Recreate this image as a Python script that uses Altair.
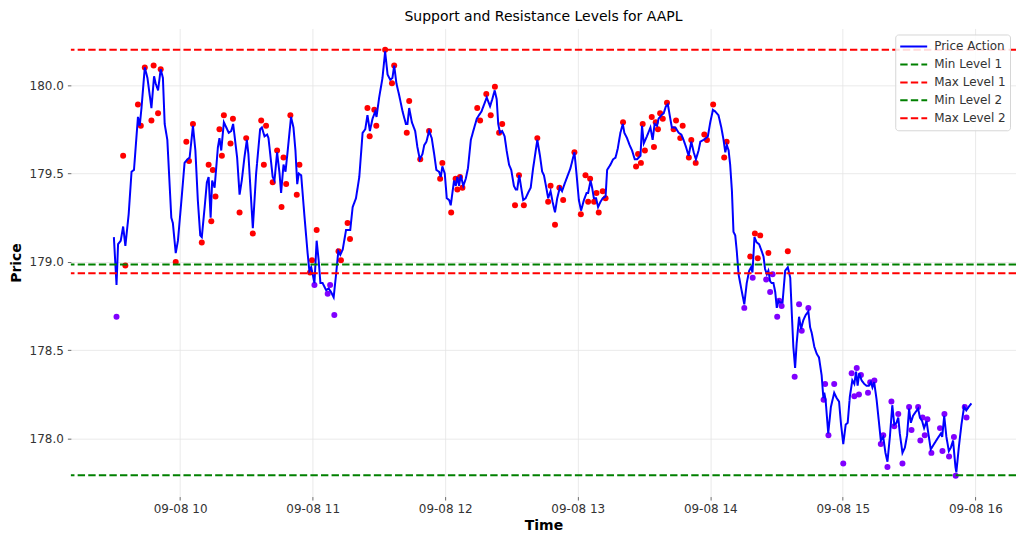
import altair as alt
import pandas as pd

# ---- data (minutes after 09:00, price) ----
price_points = [
    (30.0,179.14),(31.2,178.87),(31.9,179.10),(33.1,179.12),(34.2,179.20),(35.2,179.09),(36.7,179.27),(38.0,179.51),
    (39.1,179.52),(40.9,179.82),(41.7,179.77),(42.5,179.87),(44.0,180.10),(45.2,180.04),(47.0,179.87),(48.2,180.05),
    (48.9,180.01),(50.0,179.97),(51.2,180.09),(52.2,180.04),(53.0,179.78),(54.2,179.69),(56.0,179.25),(56.7,179.22),
    (58.0,179.05),(59.0,179.12),(60.8,179.38),(62.0,179.56),(63.3,179.58),(64.3,179.59),(65.8,179.77),(66.9,179.63),
    (68.0,179.35),(69.1,179.15),(69.8,179.14),(71.1,179.31),(72.1,179.45),(72.9,179.48),(73.8,179.25),(74.5,179.46),
    (75.6,179.42),(77.1,179.65),(77.8,179.70),(78.6,179.63),(79.8,179.79),(80.9,179.76),(82.0,179.73),(83.1,179.74),
    (84.0,179.78),(85.8,179.59),(86.9,179.38),(87.9,179.46),(89.1,179.59),(90.2,179.69),(90.9,179.61),(92.9,179.19),
    (94.4,179.50),(96.2,179.75),(97.0,179.76),(98.2,179.71),(99.4,179.72),(100.0,179.70),(101.9,179.48),(102.7,179.46),
    (103.9,179.62),(105.0,179.50),(105.7,179.39),(106.8,179.55),(107.7,179.51),(108.7,179.63),(110.2,179.82),(111.3,179.76),
    (112.2,179.63),(113.0,179.44),(113.7,179.50),(114.8,179.49),(116.2,179.27),(117.7,179.05),(118.5,178.95),(119.3,178.97),
    (120.0,178.93),(120.8,178.88),(121.8,179.12),(122.7,179.01),(123.5,178.88),(124.5,178.88),(126.1,178.84),(127.2,178.85),
    (128.3,178.83),(129.5,178.80),(130.6,178.93),(131.6,179.06),(132.5,179.04),(133.6,179.07),(135.1,179.18),(136.1,179.18),
    (137.0,179.18),(138.1,179.31),(139.6,179.36),(141.1,179.48),(142.6,179.73),(143.8,179.75),(144.8,179.83),(145.9,179.74),
    (147.1,179.81),(148.3,179.85),(148.9,179.82),(150.1,179.93),(151.6,180.04),(152.8,180.19),(153.9,180.06),(155.1,180.03),
    (156.1,180.04),(156.9,180.11),(157.9,180.01),(159.2,179.94),(160.7,179.85),(162.2,179.78),(162.9,179.78),(163.7,179.87),
    (164.9,179.79),(166.4,179.74),(167.4,179.65),(168.5,179.58),(169.7,179.61),(170.5,179.66),(171.5,179.68),(172.7,179.74),
    (173.9,179.70),(175.0,179.61),(176.0,179.52),(177.2,179.51),(178.0,179.48),(178.7,179.54),(179.8,179.50),(180.7,179.36),
    (181.8,179.35),(182.5,179.32),(184.0,179.46),(184.8,179.43),(185.5,179.48),(186.3,179.43),(187.0,179.49),(188.2,179.43),
    (189.3,179.47),(190.3,179.53),(191.6,179.69),(192.7,179.74),(194.3,179.81),(195.3,179.83),(196.4,179.85),(197.6,179.89),
    (198.8,179.93),(200.3,179.88),(201.3,179.92),(202.4,179.97),(203.3,179.92),(204.0,179.78),(204.8,179.73),(205.8,179.74),
    (206.9,179.71),(207.8,179.63),(208.9,179.55),(209.9,179.52),(211.1,179.43),(211.9,179.41),(212.6,179.41),(213.5,179.49),
    (214.4,179.42),(215.3,179.35),(216.4,179.36),(217.5,179.39),(218.7,179.42),(219.8,179.53),(221.7,179.69),(222.9,179.60),
    (223.9,179.51),(224.7,179.49),(225.9,179.41),(226.6,179.36),(227.7,179.40),(228.6,179.34),(229.7,179.28),(230.7,179.36),
    (231.9,179.42),(232.9,179.40),(234.0,179.44),(235.2,179.48),(236.7,179.53),(238.5,179.62),(239.5,179.49),(240.5,179.35),
    (241.5,179.29),(242.8,179.35),(244.0,179.39),(244.7,179.39),(245.8,179.46),(246.5,179.42),(247.3,179.36),(248.3,179.36),
    (249.2,179.31),(250.3,179.34),(251.3,179.36),(252.6,179.37),(253.3,179.52),(254.8,179.55),(256.0,179.58),(257.1,179.59),
    (258.1,179.64),(259.3,179.73),(260.4,179.78),(261.1,179.73),(262.3,179.70),(263.5,179.66),(264.6,179.63),(265.8,179.58),
    (266.8,179.58),(268.4,179.60),(269.1,179.77),(269.9,179.67),(271.3,179.71),(272.9,179.76),(273.9,179.69),(274.8,179.78),
    (275.9,179.77),(276.6,179.81),(277.9,179.83),(278.9,179.84),(279.9,179.88),(280.8,179.89),(281.9,179.81),(282.6,179.76),
    (284.2,179.76),(285.7,179.73),(286.9,179.72),(287.9,179.69),(289.0,179.65),(290.2,179.60),(291.4,179.68),(292.5,179.62),
    (293.5,179.58),(294.7,179.63),(295.5,179.68),(297.0,179.69),(298.0,179.70),(298.9,179.71),(300.0,179.79),(301.2,179.86),
    (302.3,179.85),(303.7,179.83),(305.0,179.76),(306.0,179.69),(306.8,179.62),(307.5,179.66),(308.3,179.63),(309.0,179.55),
    (309.8,179.40),(310.5,179.17),(311.3,179.15),(312.0,179.06),(312.8,178.93),(314.0,178.85),(315.4,178.76),(316.5,178.88),
    (317.6,178.95),(318.5,178.97),(319.1,178.94),(320.0,179.14),(321.0,179.11),(322.1,179.10),(323.3,179.06),(324.1,179.03),
    (324.8,178.96),(325.6,178.93),(326.3,178.95),(327.1,178.89),(327.8,178.88),(328.6,178.88),(329.4,178.83),(330.1,178.74),
    (330.9,178.78),(331.6,178.77),(332.7,178.77),(333.9,178.95),(335.1,178.97),(336.2,178.91),(336.9,178.71),(337.6,178.52),
    (338.4,178.40),(339.1,178.54),(340.2,178.69),(341.1,178.62),(342.1,178.67),(343.2,178.70),(344.4,178.72),(345.2,178.63),
    (345.9,178.60),(347.1,178.52),(348.2,178.48),(349.2,178.46),(350.4,178.36),(351.2,178.23),(351.6,178.26),(352.2,178.22),
    (353.4,178.03),(354.6,178.18),(356.1,178.26),(357.2,178.23),(358.3,178.21),(359.2,178.08),(360.2,177.97),(361.3,178.08),
    (362.2,178.09),(363.2,178.24),(364.3,178.33),(365.2,178.31),(366.0,178.38),(366.7,178.30),(367.4,178.37),(368.5,178.33),
    (369.7,178.31),(370.7,178.30),(371.8,178.30),(372.7,178.32),(373.4,178.29),(374.2,178.32),(375.3,178.22),(376.3,178.10),
    (377.2,177.99),(378.3,178.01),(379.3,177.92),(380.2,177.87),(381.3,178.01),(382.4,178.19),(383.3,178.08),(384.3,178.09),
    (385.1,178.12),(385.8,178.03),(387.0,177.92),(388.1,177.95),(389.1,178.02),(390.0,178.17),(390.8,178.09),(391.8,178.13),
    (392.9,178.15),(394.1,178.17),(394.9,178.12),(395.9,178.10),(396.8,178.06),(397.9,178.10),(398.6,178.04),(399.8,177.94),
    (401.3,177.97),(402.8,178.00),(404.4,178.03),(405.0,178.01),(405.9,178.13),(406.9,178.01),(408.0,177.93),(408.9,177.95),
    (409.9,177.99),(411.0,177.84),(411.4,177.81),(412.5,177.95),(413.7,178.08),(414.9,178.18),(415.9,178.16),(417.0,178.18),
    (418.2,178.20),
]

red_points = [
    (34.2,179.60),(35.2,178.98),(40.9,179.89),(42.2,179.77),(44.0,180.10),(47.0,179.80),(48.0,180.11),(50.0,179.84),
    (51.2,180.09),(58.0,179.00),(62.8,179.68),(64.0,179.57),(65.8,179.78),(69.8,179.11),(72.9,179.55),(74.1,179.23),
    (74.8,179.52),(76.0,179.37),(77.8,179.75),(78.9,179.60),(79.8,179.83),(82.8,179.67),(83.9,179.81),(86.9,179.28),
    (89.9,179.70),(92.9,179.16),(96.7,179.80),(97.9,179.55),(98.9,179.77),(101.9,179.45),(103.9,179.63),(105.9,179.31),
    (106.8,179.59),(108.0,179.44),(109.9,179.83),(112.8,179.38),(114.0,179.55),(118.8,178.94),(119.7,179.01),(121.8,179.18),
    (131.7,179.06),(132.8,179.01),(135.8,179.22),(136.9,179.13),(144.8,179.87),(145.8,179.71),(147.9,179.86),(148.8,179.77),
    (152.8,180.20),(155.9,180.01),(156.9,180.11),(162.6,179.73),(163.7,179.91),(168.7,179.58),(172.7,179.74),(177.7,179.47),
    (178.7,179.56),(182.7,179.28),(184.7,179.47),(185.5,179.41),(186.7,179.48),(187.8,179.42),(194.5,179.87),(195.8,179.80),
    (198.6,179.95),(200.6,179.83),(202.5,179.99),(204.4,179.73),(205.8,179.78),(211.6,179.32),(213.4,179.49),(215.6,179.32),
    (221.7,179.70),(226.6,179.34),(227.7,179.43),(229.7,179.21),(231.7,179.42),(233.4,179.35),(238.5,179.62),(241.4,179.27),
    (243.5,179.49),(244.7,179.34),(245.6,179.47),(247.4,179.34),(248.5,179.39),(249.5,179.28),(251.3,179.40),(252.6,179.36),
    (260.5,179.79),(266.4,179.54),(267.3,179.61),(268.6,179.56),(269.4,179.78),(270.4,179.63),(273.5,179.82),(274.5,179.65),
    (275.3,179.79),(276.3,179.75),(277.3,179.84),(278.5,179.81),(280.4,179.90),(283.4,179.75),(284.5,179.80),(286.4,179.70),
    (287.5,179.77),(290.3,179.59),(291.4,179.69),(293.4,179.56),(297.3,179.72),(298.5,179.69),(301.3,179.89),(306.3,179.59),
    (307.4,179.68),(318.1,179.03),(320.2,179.16),(321.5,179.02),(322.6,179.15),(326.3,179.05),(335.1,179.06),
]

purple_points = [
    (31.2,178.69),(120.8,178.87),(126.8,178.82),(127.9,178.87),(129.8,178.70),(315.4,178.74),(319.2,178.91),(325.3,178.90),
    (327.1,178.83),(328.2,178.93),(330.3,178.69),(331.2,178.78),(332.3,178.75),(338.2,178.35),(340.2,178.76),(341.4,178.61),
    (344.4,178.74),(351.3,178.22),(352.0,178.31),(353.5,178.02),(356.1,178.31),(360.2,177.86),(364.0,178.37),(365.2,178.24),
    (366.3,178.40),(367.3,178.25),(368.2,178.36),(371.4,178.26),(372.4,178.32),(374.3,178.33),(377.2,177.97),(378.3,178.02),
    (380.2,177.84),(382.0,178.21),(383.3,178.07),(385.1,178.14),(387.0,177.86),(390.0,178.18),(391.1,178.05),(394.1,178.18),
    (395.1,177.99),(396.1,178.12),(397.1,178.02),(398.3,178.11),(400.1,177.92),(404.0,178.06),(405.1,177.93),(406.0,178.14),
    (408.1,177.90),(410.3,178.01),(411.1,177.79),(415.2,178.18),(416.0,178.12),
]

series_names = ["Price Action", "Min Level 1", "Max Level 1", "Min Level 2", "Max Level 2"]
series_colors = ["#0000ff", "#008000", "#ff0000", "#008000", "#ff0000"]
series_dashes = [[1, 0], [7.4, 3.2], [7.4, 3.2], [7.4, 3.2], [7.4, 3.2]]
level_names = ["Min Level 1", "Max Level 1", "Min Level 2", "Max Level 2"]
level_values = [177.793, 180.20, 178.985, 178.936]

hour_ticks = [10, 11, 12, 13, 14, 15, 16]
price_ticks = [178.0, 178.5, 179.0, 179.5, 180.0]

BASE = pd.Timestamp("2023-09-08 09:00:00")


def frame(points):
    return pd.DataFrame({
        "time": [BASE + pd.Timedelta(minutes=m) for m, _ in points],
        "price": [p for _, p in points],
    })


price_df = frame(price_points)
price_df["series"] = "Price Action"
red_df = frame(red_points)
purple_df = frame(purple_points)
levels_df = pd.DataFrame({"series": level_names, "value": level_values})

x_scale = alt.Scale(domain=[
    alt.DateTime(year=2023, month=9, date=8, hours=9, minutes=10, seconds=32),
    alt.DateTime(year=2023, month=9, date=8, hours=16, minutes=18, seconds=24),
])
y_scale = alt.Scale(domain=[177.673, 180.32], zero=False, nice=False)

x_enc = alt.X("time:T", scale=x_scale, title="Time",
              axis=alt.Axis(values=[alt.DateTime(year=2023, month=9, date=8, hours=h) for h in hour_ticks],
                            format="%m-%d %H", labelPadding=3, titlePadding=5))
y_enc = alt.Y("price:Q", scale=y_scale, title="Price",
              axis=alt.Axis(values=price_ticks, format=".1f", labelPadding=4, titlePadding=6))

legend = alt.Legend(title=None)
color_enc = alt.Color("series:N", scale=alt.Scale(domain=series_names, range=series_colors), legend=legend)
dash_enc = alt.StrokeDash("series:N", scale=alt.Scale(domain=series_names, range=series_dashes), legend=legend)

red_layer = alt.Chart(red_df).mark_circle(size=36, opacity=1, color="#ff0000").encode(x=x_enc, y=y_enc)
purple_layer = alt.Chart(purple_df).mark_circle(size=36, opacity=1, color="#8000ff").encode(x=x_enc, y=y_enc)
line_layer = alt.Chart(price_df).mark_line(strokeWidth=2).encode(
    x=x_enc, y=y_enc, color=color_enc, strokeDash=dash_enc)
rule_layer = alt.Chart(levels_df).mark_rule(strokeWidth=2).encode(
    y=alt.Y("value:Q", scale=y_scale), color=color_enc, strokeDash=dash_enc)

chart = alt.layer(red_layer, purple_layer, line_layer, rule_layer).properties(
    width=947,
    height=469,
    title=alt.TitleParams("Support and Resistance Levels for AAPL", font="DejaVu Sans", fontSize=14,
                          fontWeight="normal", color="#000000", anchor="middle", offset=4),
    autosize=alt.AutoSizeParams(type="none"),
    padding={"left": 63, "top": 20, "right": 0, "bottom": 40},
).configure_view(stroke=None).configure_axis(
    grid=True, gridColor="#e4e4e4", gridWidth=0.8, domain=False,
    tickColor="#444444", tickSize=3.5, tickWidth=0.8,
    labelFont="DejaVu Sans", labelFontSize=12, labelColor="#333333",
    titleFont="DejaVu Sans", titleFontSize=14, titleFontWeight="bold", titleColor="#000000",
).configure_legend(
    orient="top-right", offset=6, padding=4, fillColor="rgba(255,255,255,0.85)",
    strokeColor="#d6d6d6", cornerRadius=3, symbolType="stroke", symbolStrokeWidth=2,
    symbolSize=729, labelFont="DejaVu Sans", labelFontSize=12, labelColor="#333333",
    labelOffset=6, rowPadding=2, clipHeight=16,
)

chart.save("out.html", embed_options={"renderer": "svg", "actions": False})
